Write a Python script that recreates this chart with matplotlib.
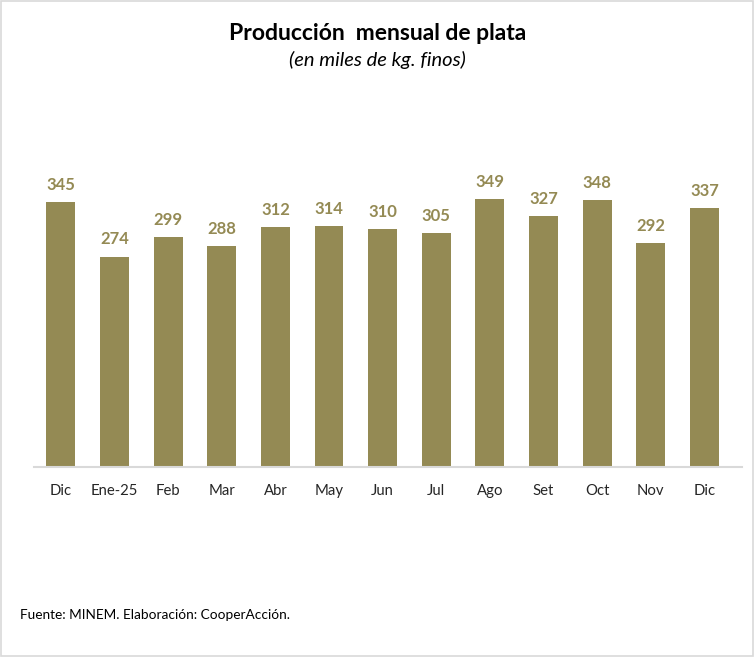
import matplotlib.pyplot as plt
from matplotlib.patches import Rectangle

months = ["Dic", "Ene-25", "Feb", "Mar", "Abr", "May", "Jun", "Jul",
          "Ago", "Set", "Oct", "Nov", "Dic"]
values = [345, 274, 299, 288, 312, 314, 310, 305, 349, 327, 348, 292, 337]

BAR = "#948A54"
plt.rcParams["font.family"] = ["Lato", "DejaVu Sans"]

fig = plt.figure(figsize=(7.55, 6.57), dpi=100)
fig.patches.append(Rectangle((0.001, 0.001), 0.997, 0.997, transform=fig.transFigure,
                             fill=False, edgecolor="#D9D9D9", linewidth=1.2))

ax = fig.add_axes([34 / 755, (657 - 467) / 657, (742 - 34) / 755, 337 / 657])
x = range(len(values))
bars = ax.bar(x, values, width=0.54, color=BAR)
for xi, v in zip(x, values):
    ax.text(xi, v + 12, str(v), ha="center", va="bottom", color=BAR,
            fontsize=12, fontweight="bold")

ax.set_xlim(-0.5, 12.7)
ax.set_ylim(0, 439)
ax.set_xticks(list(x))
ax.set_xticklabels(months, fontsize=10.7, color="#262626")
ax.tick_params(axis="x", length=0, pad=12)
ax.set_yticks([])
for s in ["top", "right", "left"]:
    ax.spines[s].set_visible(False)
ax.spines["bottom"].set_color("#D9D9D9")
ax.spines["bottom"].set_linewidth(1.5)

fig.text(0.5, 1 - 33 / 657, "Producción  mensual de plata", ha="center", va="center",
         fontsize=16.5, fontweight="bold")
fig.text(0.5, 1 - 60 / 657, "(en miles de kg. finos)", ha="center", va="center",
         fontsize=14.5, style="italic")
fig.text(20 / 755, 1 - 615 / 657, "Fuente: MINEM. Elaboración: CooperAcción.",
         ha="left", va="center", fontsize=9.8)

fig.savefig("out.png", dpi=100)
